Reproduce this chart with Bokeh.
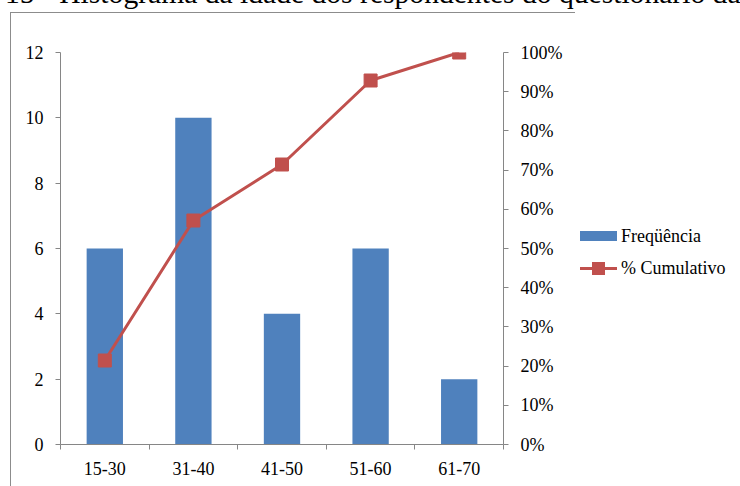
from bokeh.plotting import figure
from bokeh.layouts import column
from bokeh.models import (Range1d, LinearAxis, FixedTicker, NumeralTickFormatter, Div)
from bokeh.embed import file_html
from bokeh.resources import INLINE

# Age classes of respondents and their frequencies
faixas = ["15-30", "31-40", "41-50", "51-60", "61-70"]
frequencia = [6, 10, 4, 6, 2]
y_ticks = [0, 2, 4, 6, 8, 10, 12]
pct_ticks = [0.0, 0.1, 0.2, 0.3, 0.4, 0.5, 0.6, 0.7, 0.8, 0.9, 1.0]
titulo = "15 - Histograma da idade dos respondentes do questionário da"
serie_barras = "Freqüência"
serie_linha = "% Cumulativo"

total = sum(frequencia)
cumulativo = []
acc = 0
for f in frequencia:
    acc += f
    cumulativo.append(acc / total)

centers = [i + 0.5 for i in range(len(faixas))]
bounds = list(range(len(faixas) + 1))

FONT = "Liberation Serif"
FS = "18px"
GRAY = "#868686"
BLUE = "#4F81BD"
RED = "#C0504D"

p = figure(frame_width=443, frame_height=392, output_backend="svg", toolbar_location=None,
           x_range=Range1d(0, len(faixas)), y_range=Range1d(0, 12),
           min_border_left=60, min_border_right=0, min_border_top=52,
           min_border_bottom=0)
p.outline_line_color = None
p.grid.grid_line_color = None
p.background_fill_color = None
p.border_fill_color = None

p.extra_y_ranges = {"pct": Range1d(0, 1)}

p.vbar(x=centers, top=frequencia, width=0.41, fill_color=BLUE, line_color=None)
p.line(x=centers, y=cumulativo, y_range_name="pct", line_color=RED, line_width=3)
p.scatter(x=centers, y=cumulativo, y_range_name="pct", marker="square", size=13,
          fill_color=RED, line_color=RED)

def style(ax):
    ax.axis_line_color = GRAY
    ax.major_tick_line_color = GRAY
    ax.minor_tick_line_color = GRAY
    ax.major_label_text_font = FONT
    ax.major_label_text_font_size = FS
    ax.major_label_text_color = "black"
    ax.major_tick_in = 0
    ax.minor_tick_in = 0
    ax.minor_tick_out = 0

# x axis: labels at class centres, tick marks at class boundaries
xa = p.xaxis[0]
xa.ticker = FixedTicker(ticks=centers, minor_ticks=bounds)
xa.major_label_overrides = {c: lab for c, lab in zip(centers, faixas)}
style(xa)
xa.major_tick_out = 0
xa.minor_tick_out = 5
xa.major_label_standoff = 12

ya = p.yaxis[0]
ya.ticker = FixedTicker(ticks=y_ticks)
style(ya)
ya.major_tick_out = 5
ya.major_label_standoff = 12

ra = LinearAxis(y_range_name="pct", ticker=FixedTicker(ticks=pct_ticks),
                formatter=NumeralTickFormatter(format="0%"))
style(ra)
ra.major_tick_out = 5
ra.major_label_standoff = 12
p.add_layout(ra, "right")

# legend to the right of the percentage axis
row_css = "display:flex;align-items:center;height:20px;white-space:nowrap;color:black"
key_bar = ('<span style="display:inline-block;width:37px;height:10px;'
           'background:%s;margin-right:4px"></span>' % BLUE)
key_line = ('<span style="position:relative;display:inline-block;width:37px;height:13px;'
            'margin-right:4px">'
            '<span style="position:absolute;left:0;top:5px;width:37px;height:3px;'
            'background:%s"></span>'
            '<span style="position:absolute;left:12px;top:0;width:13px;height:13px;'
            'background:%s"></span></span>' % (RED, RED))
legend_html = ('<div style="font-family:%s;font-size:%s;line-height:20px">'
               '<div style="%s">%s%s</div>'
               '<div style="%s;margin-top:12px">%s%s</div></div>'
               % (FONT, FS, row_css, key_bar, serie_barras, row_css, key_line, serie_linha))
legend_div = Div(text=legend_html, margin=0, styles={
    "position": "absolute", "left": "580px", "top": "226px", "white-space": "nowrap"})

# chart title (runs past the top edge) and the chart-area border
title_div = Div(text=('<span style="font-family:%s;font-size:29.6px;line-height:29px;'
                      'white-space:nowrap;color:black">%s</span>' % (FONT, titulo)),
                margin=0, styles={"position": "absolute", "left": "5px", "top": "-21px",
                                  "line-height": "29px", "white-space": "nowrap"})
border_div = Div(text="", margin=0, styles={
    "position": "absolute", "left": "10px", "top": "12px",
    "width": "730px", "height": "474px",
    "border-left": "1px solid #8C8C8C", "border-top": "1px solid #8C8C8C",
    "box-sizing": "border-box"})

page = column(p, legend_div, title_div, border_div, styles={"background": "white"})

open("out.html", "w").write(file_html(page, INLINE))
